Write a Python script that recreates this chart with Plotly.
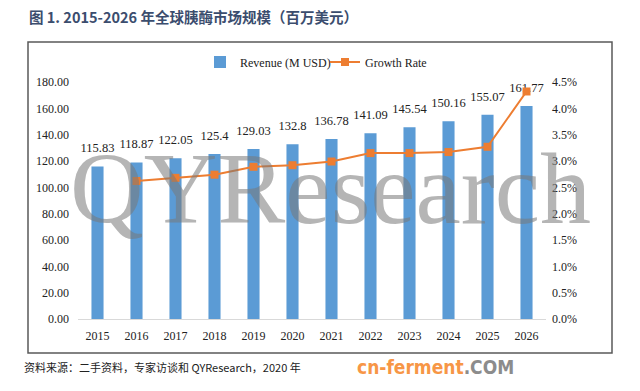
import plotly.graph_objects as go

years = ["2015", "2016", "2017", "2018", "2019", "2020", "2021", "2022", "2023", "2024", "2025", "2026"]
revenue = [115.83, 118.87, 122.05, 125.4, 129.03, 132.8, 136.78, 141.09, 145.54, 150.16, 155.07, 161.77]
growth_years = years[1:]
growth = [0.0262, 0.0268, 0.0274, 0.0289, 0.0292, 0.0299, 0.0315, 0.0315, 0.0317, 0.0327, 0.0432]

L, R, T, B = 78, 546, 82, 319
PW, PH = R - L, B - T


def px(x):
    return (x - L) / PW


def py(y):
    return (B - y) / PH


serif = "Liberation Serif"
dark = "#222222"
fig = go.Figure()
fig.add_trace(go.Bar(
    x=years, y=revenue, name="Revenue (M USD)",
    marker=dict(color="#5B9BD5", line=dict(width=0)),
    width=0.31,
))
fig.add_trace(go.Scatter(
    x=years, y=revenue, mode="markers+text", showlegend=False, hoverinfo="skip",
    marker=dict(size=16, opacity=0, color="#5B9BD5"),
    text=[f"{v:g}" for v in revenue], textposition="top center",
    textfont=dict(family=serif, size=12.5, color=dark),
    cliponaxis=False,
))
fig.add_trace(go.Scatter(
    x=growth_years, y=growth, name="Growth Rate", yaxis="y2",
    mode="lines+markers",
    line=dict(color="#ED7D31", width=2),
    marker=dict(symbol="square", size=8, color="#ED7D31"),
))

fig.update_layout(
    template="none",
    width=640, height=391,
    margin=dict(l=L, r=640 - R, t=T, b=391 - B, pad=0, autoexpand=False),
    paper_bgcolor="white", plot_bgcolor="white",
    showlegend=True,
    legend=dict(orientation="h", x=px(200), y=py(62), xanchor="left", yanchor="middle",
                font=dict(family=serif, size=12, color=dark),
                bgcolor="rgba(0,0,0,0)", itemwidth=30, tracegroupgap=0,
                entrywidth=80, entrywidthmode="pixels"),
    xaxis=dict(type="category", range=[-0.5, 11.5], showgrid=False, showline=True,
               linecolor="#D9D9D9", linewidth=1, automargin=False,
               ticks="", ticklabelstandoff=6, tickfont=dict(family=serif, size=12, color=dark)),
    yaxis=dict(range=[0, 180], dtick=20, tickformat=".2f", showgrid=False, zeroline=False,
               showline=False, ticks="", ticklabelstandoff=8, automargin=False,
               tickfont=dict(family=serif, size=12, color=dark)),
    yaxis2=dict(range=[0, 0.045], dtick=0.005, tickformat=".1%", overlaying="y", side="right",
                showgrid=False, zeroline=False, showline=False, ticks="", ticklabelstandoff=5,
                automargin=False, tickfont=dict(family=serif, size=12, color=dark)),
    font=dict(family=serif),
)

fig.add_shape(type="rect", xref="paper", yref="paper",
              x0=px(28), x1=px(612), y0=py(353), y1=py(42),
              line=dict(color="#595959", width=1.5), layer="below")

fig.add_annotation(text="QYResearch", xref="paper", yref="paper",
                   x=px(330), y=py(188), xanchor="center", yanchor="middle",
                   showarrow=False,
                   font=dict(family=serif, size=102, color="rgba(120,120,120,0.55)"))

fig.add_annotation(text="<b>图 1. 2015-2026 年全球胰酶市场规模（百万美元）</b>",
                   xref="paper", yref="paper", x=px(27), y=py(16),
                   xanchor="left", yanchor="middle", showarrow=False,
                   font=dict(family="Noto Sans CJK SC", size=14.5, color="#3B4D6E"))

fig.add_annotation(text="资料来源：二手资料，专家访谈和 QYResearch，2020 年",
                   xref="paper", yref="paper", x=px(22), y=py(367),
                   xanchor="left", yanchor="middle", showarrow=False,
                   font=dict(family="Noto Sans CJK SC", size=11, color=dark))

fig.add_annotation(text='<b><span style="color:#F79646">cn-ferment</span><span style="color:#8C8C8C">.COM</span></b>',
                   xref="paper", yref="paper", x=px(355), y=py(367),
                   xanchor="left", yanchor="middle", showarrow=False,
                   font=dict(family="DejaVu Sans Condensed", size=19))

fig.write_html("out.html", config={"displayModeBar": False},
               post_script="document.body.style.margin='0';document.body.style.overflow='hidden';")
